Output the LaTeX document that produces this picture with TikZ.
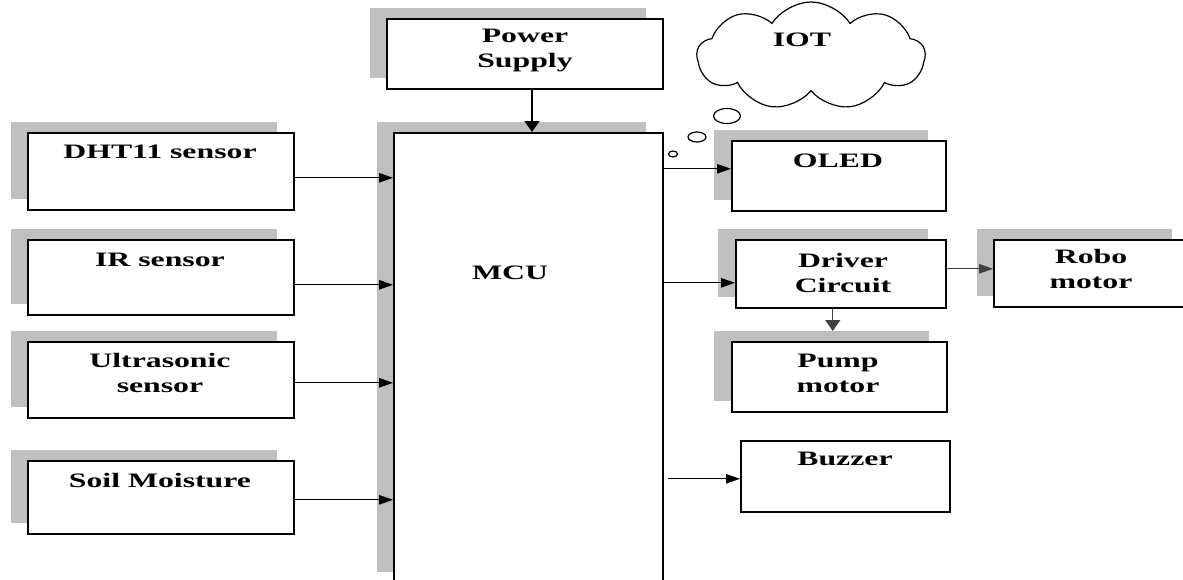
\documentclass[tikz,border=0pt]{standalone}
\usepackage{fontspec}
\setmainfont{Liberation Serif}[FakeStretch=1.55]
\usetikzlibrary{arrows.meta,calc,shapes.geometric,shapes.symbols}
\definecolor{shadowgray}{HTML}{BFBFBF}
\definecolor{arrowgray}{HTML}{404040}
\tikzset{
  shadowbox/.style={fill=shadowgray, draw=none, anchor=north west, inner sep=0pt},
  blockbox/.style={draw=black, line width=1.6pt, fill=white, anchor=north west, inner sep=0pt},
  lbl/.style={anchor=base, align=center, inner sep=0pt, font=\bfseries\fontsize{20.5}{24.5}\selectfont},
  harrow/.style={line width=1pt, -{Triangle[length=14pt,width=9.5pt]}},
  varrow/.style={line width=1.5pt, -{Triangle[length=11pt,width=15pt]}},
  bubble/.style={ellipse, draw=black, line width=1.2pt, inner sep=0pt}
}
% name, x, y, w, h, shadow dx
\newcommand\mkblock[6]{%
  \node[shadowbox, minimum width=#4pt, minimum height=#5pt] (#1S) at ({#2-#6},{#3-10}) {};
  \node[blockbox, minimum width=#4pt, minimum height=#5pt] (#1) at (#2,#3) {};
}
\begin{document}
\begin{tikzpicture}[x=1pt,y=-1pt]
\useasboundingbox (0,0) rectangle (1183,579);
\clip (0,0) rectangle (1183,579);

% blocks
\mkblock{pw}{386}{18}{276}{70}{16}
\mkblock{mcu}{393}{132}{269}{450}{16}
\mkblock{dht}{27}{132}{266}{77}{16}
\mkblock{ir}{27}{239}{266}{75}{16}
\mkblock{us}{27}{341}{266}{76}{16}
\mkblock{soil}{27}{460}{266}{73}{16}
\mkblock{oled}{731}{140}{214}{70}{17}
\mkblock{drv}{735}{239}{210}{68}{17}
\mkblock{robo}{993}{239}{195}{67}{16}
\mkblock{pump}{731}{341}{215}{70}{17}
\node[blockbox, minimum width=209pt, minimum height=71pt] (buz) at (740,440) {};

% labels (anchor=base: baseline of the last line)
\node[lbl] (pwT) at (525,67) {Power\\Supply};
\node[lbl] (mcuT) at (510,279) {MCU};
\node[lbl] (dhtT) at (160,158) {DHT11 sensor};
\node[lbl] (irT) at (160,266) {IR sensor};
\node[lbl] (usT) at (160,392) {Ultrasonic\\sensor};
\node[lbl] (soilT) at (160,487) {Soil Moisture};
\node[lbl] (oledT) at (838,167) {OLED};
\node[lbl] (drvT) at (843,292) {Driver\\Circuit};
\node[lbl] (roboT) at (1091,288) {Robo\\motor};
\node[lbl] (pumpT) at (838,392) {Pump\\motor};
\node[lbl] (buzT) at (845,465) {Buzzer};

% IOT cloud and thought bubbles
\node[cloud, cloud puffs=9, cloud puff arc=115, aspect=2.2, draw=black, line width=1.2pt,
      minimum width=228pt, minimum height=108pt, inner sep=0pt] (iot) at (811,56) {};
\node[lbl] (iotT) at (802,46) {IOT};
\node[bubble, minimum width=27pt, minimum height=15pt] (b1) at (727,116) {};
\node[bubble, minimum width=18pt, minimum height=10pt] (b2) at (697,137) {};
\node[bubble, minimum width=9pt, minimum height=6pt] (b3) at (673,154) {};

% connectors
\coordinate (pa) at (532,0);
\draw[varrow] (pw.south -| pa) -- (mcu.north -| pa);
\draw[harrow] ([yshift=-6.5pt]dht.east) -- ([yshift=-6.5pt]dht.east -| mcu.west);
\draw[harrow] ([yshift=-7.5pt]ir.east) -- ([yshift=-7.5pt]ir.east -| mcu.west);
\draw[harrow] ([yshift=-3pt]us.east) -- ([yshift=-3pt]us.east -| mcu.west);
\draw[harrow] ([yshift=-2.5pt]soil.east) -- ([yshift=-2.5pt]soil.east -| mcu.west);
\draw[harrow] ([yshift=7pt]oled.west -| mcu.east) -- ([yshift=7pt]oled.west);
\draw[harrow] ([yshift=-9pt]drv.west -| mcu.east) -- ([yshift=-9pt]drv.west);
\draw[harrow, draw=arrowgray, fill=arrowgray] ([yshift=5pt]drv.east) -- ([yshift=5pt]drv.east -| robo.west);
\draw[varrow, line width=1.3pt, draw=arrowgray, fill=arrowgray] ([xshift=-8pt]drv.south) -- ([xshift=-8pt]drv.south |- pumpS.north);
\draw[harrow] ($([yshift=-2.5pt]buz.west -| mcu.east)+(4,0)$) -- ([yshift=-2.5pt]buz.west);
\end{tikzpicture}
\end{document}
